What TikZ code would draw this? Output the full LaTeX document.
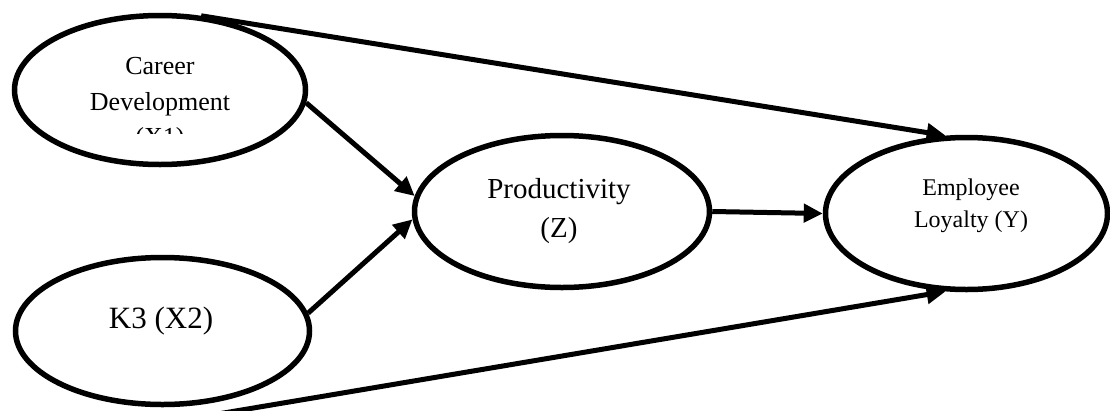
\documentclass[tikz,border=0pt]{standalone}
\usepackage{fontspec}
\setmainfont{Liberation Serif}
\usetikzlibrary{shapes.geometric,arrows.meta}
\begin{document}
\begin{tikzpicture}[x=1pt,y=-1pt,
  ell/.style={ellipse, draw, line width=5.5pt, inner sep=0pt},
  conn/.style={line width=5pt, -{Triangle[length=19pt,width=18pt]}},
  lbl/.style={anchor=base, inner sep=0pt}]
\useasboundingbox[fill=white] (0,0) rectangle (1110,410);
% ellipses
\node[ell, minimum width=291pt, minimum height=149pt] (n1) at (160,90) {};
\node[ell, minimum width=294pt, minimum height=147pt] (n2) at (162.5,331) {};
\node[ell, minimum width=295pt, minimum height=152pt] (n3) at (562,211.5) {};
\node[ell, minimum width=282pt, minimum height=152pt] (n4) at (966.5,213.5) {};
% texts
\begin{scope}
\clip (0,0) rectangle (1110,133);
\node[lbl, font=\fontsize{26}{35}\selectfont] (t1a) at (160,74) {Career};
\node[lbl, font=\fontsize{26}{35}\selectfont] (t1b) at (160,110) {Development};
\node[lbl, font=\fontsize{26}{35}\selectfont] (t1c) at (160,145) {(X1)};
\end{scope}
\node[lbl, font=\fontsize{31}{37}\selectfont] (t2) at (161,328) {K3 (X2)};
\node[lbl, font=\fontsize{29}{35}\selectfont] (t3a) at (559,198) {Productivity};
\node[lbl, font=\fontsize{29}{35}\selectfont] (t3b) at (559,237) {(Z)};
\node[lbl, font=\fontsize{24}{30}\selectfont] (t4a) at (971,195) {Employee};
\node[lbl, font=\fontsize{24}{30}\selectfont] (t4b) at (971,227) {Loyalty (Y)};
% connectors
\coordinate (s5) at (200,417);
\draw[conn] (n1.61) -- (n4.105);
\draw[conn] (n1.-5) -- (n3.174);
\draw[conn] (n2.7) -- (n3.183);
\draw[conn] (n3.east) -- (n4.west);
\draw[conn] (s5) -- (n4.-105);
\end{tikzpicture}
\end{document}
